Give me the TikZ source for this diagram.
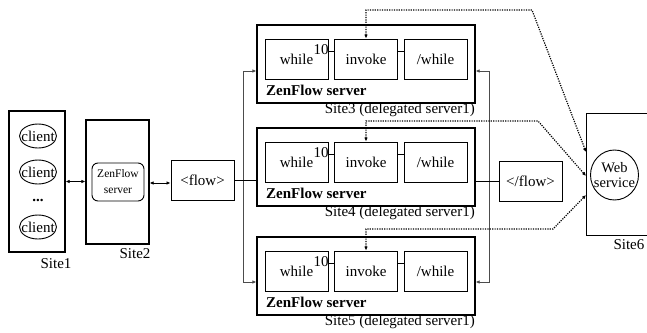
\documentclass[tikz,border=0pt]{standalone}
\usepackage{fontspec}
\setmainfont{Liberation Serif}
\usetikzlibrary{shapes.geometric,arrows.meta}
\begin{document}
\begin{tikzpicture}[x=1pt,y=-1pt,
  atip/.tip={Latex[length=4pt,width=3.6pt]},
  txt/.style={font=\fontsize{15}{17}\selectfont},
  sitebox/.style={draw,line width=1.3pt,inner sep=0pt},
  blk/.style={draw,line width=1pt,minimum width=63pt,minimum height=40pt,inner sep=0pt,txt},
  cl/.style={draw,ellipse,line width=0.9pt,minimum width=37pt,minimum height=24pt,inner sep=0pt},
  bus/.style={line width=1pt,draw=black!70},
  conn/.style={line width=1pt},
  dotl/.style={line width=1.2pt,dash pattern=on 1.2pt off 1.2pt},
]
\useasboundingbox (0,0) rectangle (647,332);

% Site1
\node[sitebox,minimum width=56pt,minimum height=141pt] (site1) at (37,181.5) {};
\node[cl,label={[txt]center:client}] (c1) at (38,136) {};
\node[cl,label={[txt]center:client}] (c2) at (38,172) {};
\node[font=\fontsize{15}{17}\selectfont\bfseries] (dots) at (38,200) {...};
\node[cl,label={[txt]center:client}] (c3) at (38,227) {};
\node[txt] (site1l) at (56,264) {Site1};

% Site2
\node[sitebox,minimum width=63pt,minimum height=124pt] (site2) at (117.5,182) {};
\node[draw,line width=0.9pt,rounded corners=6pt,minimum width=52pt,minimum height=38pt,inner sep=0pt,align=center,font=\fontsize{11.5}{16}\selectfont] (zf2) at (118,182) {ZenFlow\\server};
\node[txt] (site2l) at (135,254) {Site2};

% flow boxes
\node[blk] (flow) at (202.5,180.5) {<flow>};
\node[blk] (eflow) at (530.5,181) {</flow>};

% helper coordinates
\coordinate (ya) at (0,71);
\coordinate (yb) at (0,282);
\coordinate (yc) at (0,183);

% Sites 3-5
\foreach \n/\t in {3/25,4/128,5/237}{
  \node[sitebox,minimum width=218pt,minimum height=78pt] (s\n) at (366,\t+39) {};
  \node[blk] (w\n) at (296.5,\t+34) {while};
  \node[blk] (i\n) at (366,\t+34) {invoke};
  \node[blk] (e\n) at (435.5,\t+34) {/while};
  \node[txt,inner sep=0pt] (n\n) at (321,\t+25) {10};
  \coordinate (h\n) at (0,\t+26);
  \draw[conn] (w\n.east |- h\n) -- (i\n.west |- h\n);
  \draw[conn] (i\n.east |- h\n) -- (e\n.west |- h\n);
  \node[font=\fontsize{15}{17}\selectfont\bfseries,anchor=west,inner sep=0pt] (z\n) at (266,\t+65) {ZenFlow server};
  \node[txt,anchor=east,inner sep=0pt] (l\n) at (475,\t+85) {Site\n\ (delegated server1)};
}

% Site6
\node[sitebox,minimum width=80pt,minimum height=122pt,anchor=north west] (s6) at (586,113) {};
\node[cl,minimum width=48pt,minimum height=50pt,label={[align=center,font=\fontsize{14.5}{15}\selectfont]center:{Web\\service}}] (web) at (614.5,175) {};
\node[txt,anchor=west] (s6l) at (610,245) {Site6};

% connectors left
\draw[conn,{atip}-{atip}] (site1.east) -- (site1.east -| site2.west);
\draw[conn,{atip}-{atip}] (site2.east |- yc) -- (flow.west |- yc);

% buses
\draw[bus,{atip}-{atip}] (s3.west |- ya) -| (243,282) -- (s5.west |- yb);
\draw[bus,{atip}-{atip}] (s3.east |- ya) -| (489,282) -- (s5.east |- yb);
\draw[conn] (flow.east) -- (flow.east -| s4.west);
\draw[conn] (s4.east |- eflow.west) -- (eflow.west);

% dotted invocations
\coordinate (d3) at (532,10);
\coordinate (d4) at (538,121);
\coordinate (d5) at (553,229);
\coordinate (q3) at (0,152);
\coordinate (q4) at (0,176);
\coordinate (q5) at (0,195);
\draw[dotl,{atip}-{atip}] (i3.north) -- (i3.north |- d3) -- (d3) -- (s6.west |- q3);
\draw[dotl,{atip}-{atip}] (i4.north) -- (i4.north |- d4) -- (d4) -- (s6.west |- q4);
\draw[dotl,{atip}-{atip}] (i5.north) -- (i5.north |- d5) -- (d5) -- (s6.west |- q5);
\end{tikzpicture}
\end{document}
